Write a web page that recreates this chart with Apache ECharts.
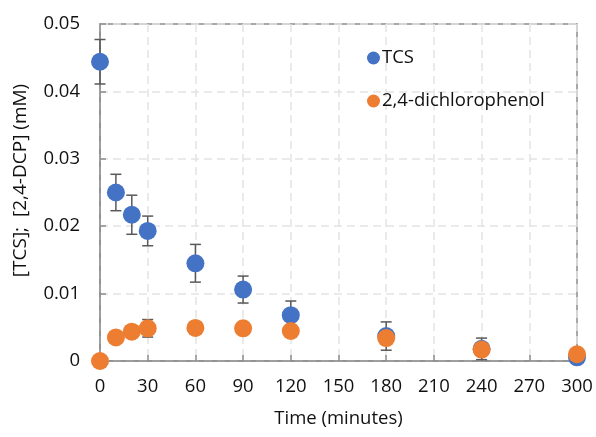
<!DOCTYPE html>
<html>
<head>
<meta charset="utf-8">
<script src="https://cdn.jsdelivr.net/npm/echarts@6/dist/echarts.min.js"></script>
<style>html,body{margin:0;padding:0;background:#fff}#c{width:596px;height:437px}</style>
</head>
<body>
<div id="c"></div>
<script>
const times = [0, 10, 20, 30, 60, 90, 120, 180, 240, 300];
const tcs = [0.0444, 0.0250, 0.0217, 0.0193, 0.0145, 0.0106, 0.0068, 0.0037, 0.0018, 0.00055];
const tcsErr = [0.0033, 0.0027, 0.0029, 0.0022, 0.0028, 0.0020, 0.0021, 0.0021, 0.0016, 0];
const dcp = [0, 0.0035, 0.00435, 0.00485, 0.0049, 0.00485, 0.00445, 0.0034, 0.0017, 0.001];
const dcpErr = [0, 0, 0, 0.0013, 0, 0, 0, 0, 0, 0];
const xTicks = [0, 30, 60, 90, 120, 150, 180, 210, 240, 270, 300];
const yTicks = [0, 0.01, 0.02, 0.03, 0.04, 0.05];

const FONT = 'Open Sans';
const FS = 18.5;
const BLUE = '#4472C4';
const ORANGE = '#ED7D31';

function pts(vals) { return times.map((t, i) => [t, vals[i]]); }
function errs(vals, e) {
  const out = [];
  times.forEach((t, i) => { if (e[i] > 0) out.push([t, vals[i] - e[i], vals[i] + e[i]]); });
  return out;
}
function errRender(params, api) {
  const x = api.value(0), lo = api.value(1), hi = api.value(2);
  const pLo = api.coord([x, lo]), pHi = api.coord([x, hi]);
  const w = 5.5;
  const st = { stroke: '#595959', lineWidth: 1.5, fill: null };
  return {
    type: 'group',
    children: [
      { type: 'line', shape: { x1: pLo[0], y1: pLo[1], x2: pHi[0], y2: pHi[1] }, style: st },
      { type: 'line', shape: { x1: pLo[0] - w, y1: pLo[1], x2: pLo[0] + w, y2: pLo[1] }, style: st },
      { type: 'line', shape: { x1: pHi[0] - w, y1: pHi[1], x2: pHi[0] + w, y2: pHi[1] }, style: st }
    ]
  };
}

const chart = echarts.init(document.getElementById('c'), null, { renderer: 'canvas' });
chart.setOption({
  animation: false,
  backgroundColor: '#fff',
  textStyle: { fontFamily: FONT },
  grid: { left: 100, right: 19, top: 24, bottom: 76, show: true, borderColor: '#8c8c8c', borderWidth: 1.5 },
  legend: {
    orient: 'vertical', left: 362, top: 42,
    itemWidth: 13, itemHeight: 13, itemGap: 21,
    icon: 'circle',
    textStyle: { fontFamily: FONT, fontSize: FS, color: '#111', lineHeight: 22, padding: [0, 0, 0, -3] },
    data: ['TCS', '2,4-dichlorophenol']
  },
  xAxis: {
    type: 'value', min: xTicks[0], max: xTicks[xTicks.length - 1], interval: 30,
    name: 'Time (minutes)', nameLocation: 'middle', nameGap: 48,
    nameTextStyle: { fontFamily: FONT, fontSize: FS, color: '#111' },
    axisLine: { show: true, lineStyle: { color: '#8c8c8c', width: 1.5 } },
    axisTick: { show: true, inside: true, length: 6, lineStyle: { color: '#8c8c8c', width: 1.5 } },
    axisLabel: { fontFamily: FONT, fontSize: FS, color: '#111', margin: 16 },
    splitLine: { show: true, lineStyle: { color: '#e3e3e3', width: 1.5, type: [8, 5] } }
  },
  yAxis: {
    type: 'value', min: yTicks[0], max: yTicks[yTicks.length - 1], interval: 0.01,
    name: '[TCS];  [2,4-DCP] (mM)', nameLocation: 'middle', nameGap: 70,
    nameTextStyle: { fontFamily: FONT, fontSize: 19, color: '#111', padding: [0, 0, 0, 24] },
    axisLine: { show: true, lineStyle: { color: '#8c8c8c', width: 1.5 } },
    axisTick: { show: true, inside: true, length: 6, lineStyle: { color: '#8c8c8c', width: 1.5 } },
    axisLabel: { fontFamily: FONT, fontSize: FS, color: '#111', margin: 20 },
    splitLine: { show: true, lineStyle: { color: '#e3e3e3', width: 1.5, type: [8, 5] } }
  },
  series: [
    { type: 'custom', name: 'tcsErr', data: errs(tcs, tcsErr), renderItem: errRender, z: 2, silent: true, clip: false },
    { type: 'scatter', name: 'TCS', data: pts(tcs), symbolSize: 18, itemStyle: { color: BLUE, opacity: 1 }, z: 3 },
    { type: 'custom', name: 'dcpErr', data: errs(dcp, dcpErr), renderItem: errRender, z: 4, silent: true, clip: false },
    { type: 'scatter', name: '2,4-dichlorophenol', data: pts(dcp), symbolSize: 18, itemStyle: { color: ORANGE, opacity: 1 }, z: 5 }
  ]
});
</script>
</body>
</html>
